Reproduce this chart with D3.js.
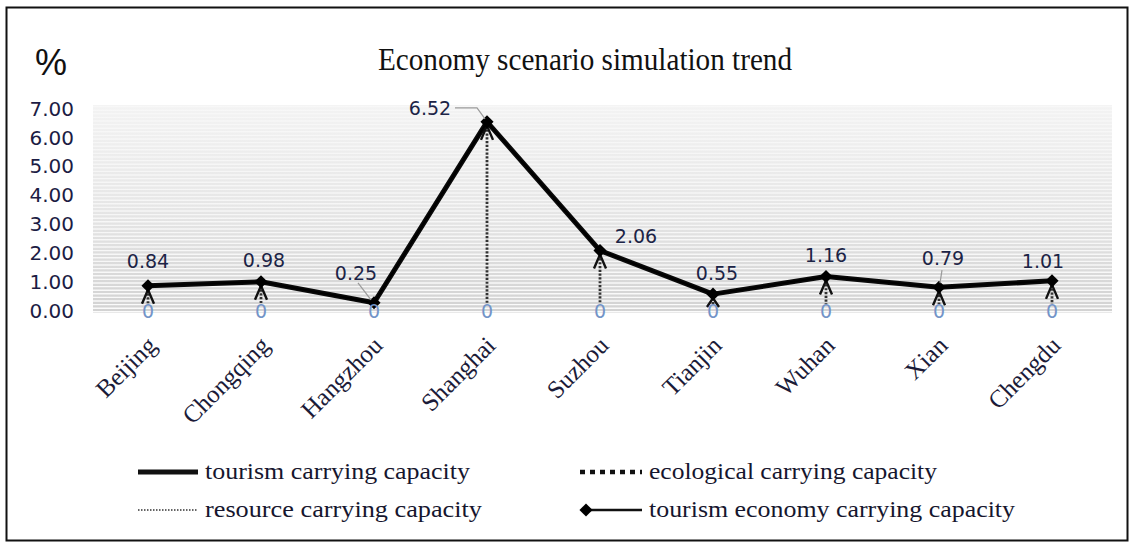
<!DOCTYPE html>
<html>
<head>
<meta charset="utf-8">
<script src="https://cdn.jsdelivr.net/npm/d3@7"></script>
<style>
  html, body { margin: 0; padding: 0; background: #fff; }
  svg { display: block; }
</style>
</head>
<body>
<svg id="chart" width="1129" height="543"></svg>
<script>
// ---- data ----
const cities = ["Beijing", "Chongqing", "Hangzhou", "Shanghai", "Suzhou", "Tianjin", "Wuhan", "Xian", "Chengdu"];
const tourismCapacity = [0.84, 0.98, 0.25, 6.52, 2.06, 0.55, 1.16, 0.79, 1.01];
const tourismEconomyCapacity = [0.84, 0.98, 0.25, 6.52, 2.06, 0.55, 1.16, 0.79, 1.01];
const ecologicalCapacity = [0, 0, 0, 0, 0, 0, 0, 0, 0];
const resourceCapacity = [0, 0, 0, 0, 0, 0, 0, 0, 0];
const yTickValues = [0, 1, 2, 3, 4, 5, 6, 7];
const legendItems = ["tourism carrying capacity", "ecological carrying capacity",
                     "resource carrying capacity", "tourism economy carrying capacity"];

// value-label placement around each point (dx, dy from the marker), plus optional leader line
const labelPlacement = {
  Beijing:   { dx: 0,   dy: -18 },
  Chongqing: { dx: 3,   dy: -15 },
  Hangzhou:  { dx: -18, dy: -23, leader: true },
  Shanghai:  { dx: -57, dy: -7,  leader: true },
  Suzhou:    { dx: 36,  dy: -8 },
  Tianjin:   { dx: 4,   dy: -14 },
  Wuhan:     { dx: 0,   dy: -15 },
  Xian:      { dx: 4,   dy: -22, leader: true },
  Chengdu:   { dx: -9,  dy: -13 }
};

const svg = d3.select("#chart");
const W = 1129, H = 543;

const x = d3.scalePoint().domain(cities).range([91.5, 1108.5]).padding(0.5);
const y = d3.scaleLinear().domain([0, 7]).range([310, 108]);

const sans = "'DejaVu Sans', Verdana, sans-serif";
const serif = "'Liberation Serif', 'Times New Roman', serif";

// outer frame
svg.append("rect")
  .attr("x", 6.5).attr("y", 7.5).attr("width", W - 8).attr("height", H - 10)
  .attr("fill", "#fff").attr("stroke", "#111").attr("stroke-width", 2);

// plot background: grey gradient with fine horizontal stripes
const defs = svg.append("defs");
const grad = defs.append("linearGradient").attr("id", "bg").attr("x1", 0).attr("y1", 0).attr("x2", 0).attr("y2", 1);
grad.append("stop").attr("offset", "0%").attr("stop-color", "#f3f3f3");
grad.append("stop").attr("offset", "50%").attr("stop-color", "#e6e6e6");
grad.append("stop").attr("offset", "100%").attr("stop-color", "#d2d2d2");

const bgTop = y(7.1), bgBottom = y(-0.1), bgLeft = 93, bgRight = 1112;
svg.append("rect")
  .attr("x", bgLeft).attr("y", bgTop).attr("width", bgRight - bgLeft).attr("height", bgBottom - bgTop)
  .attr("fill", "url(#bg)");
svg.append("g").selectAll("line")
  .data(d3.range(bgTop + 1.5, bgBottom, 3.6))
  .join("line")
  .attr("x1", bgLeft).attr("x2", bgRight)
  .attr("y1", d => d).attr("y2", d => d)
  .attr("stroke", "#ffffff").attr("stroke-width", 1.4)
  .attr("stroke-opacity", d => 0.4 + 0.5 * (d - bgTop) / (bgBottom - bgTop));

// title and unit
svg.append("text")
  .attr("x", 585).attr("y", 70).attr("text-anchor", "middle")
  .attr("font-family", serif).attr("font-size", 32)
  .attr("textLength", 414).attr("lengthAdjust", "spacingAndGlyphs")
  .attr("fill", "#111")
  .text("Economy scenario simulation trend");
svg.append("text")
  .attr("x", 51).attr("y", 75).attr("text-anchor", "middle")
  .attr("font-family", "'Liberation Sans Narrow', 'Liberation Sans', Arial, sans-serif")
  .attr("font-size", 36).attr("fill", "#111")
  .text("%");

// y axis (labels only)
const yAxis = d3.axisLeft(y).tickValues(yTickValues).tickFormat(d3.format(".2f")).tickSize(0).tickPadding(0);
const yG = svg.append("g").attr("transform", "translate(74,0)").call(yAxis);
yG.select(".domain").remove();
yG.selectAll("text")
  .attr("font-family", sans).attr("font-size", 20)
  .attr("fill", "#1c1c44").attr("dy", "0.36em");

// x axis (rotated category labels)
const xAxis = d3.axisBottom(x).tickSize(0).tickPadding(0);
const xG = svg.append("g").call(xAxis);
xG.select(".domain").remove();
xG.selectAll(".tick").attr("transform", d => `translate(${x(d) + 10},347)`);
xG.selectAll("text")
  .attr("font-family", serif).attr("font-size", 25)
  .attr("fill", "#1b1b38")
  .attr("text-anchor", "end").attr("dy", 0).attr("y", 0)
  .attr("transform", "rotate(-45)");

// vertical drop arrows from the ecological baseline up to each point
const drops = svg.append("g");
cities.forEach((c, i) => {
  const cx = x(c);
  const top = y(tourismEconomyCapacity[i]);
  const base = y(ecologicalCapacity[i]);
  const apex = top + 4;
  if (base - apex > 6) {
    drops.append("line")
      .attr("x1", cx).attr("x2", cx).attr("y1", apex).attr("y2", base - 6)
      .attr("stroke", "#333").attr("stroke-width", 2.8)
      .attr("stroke-dasharray", "2.2,1.6");
  }
  const legEnd = Math.min(apex + 14, base - 3);
  if (legEnd > apex + 3) {
    drops.append("path")
      .attr("d", `M${cx - 6},${legEnd} L${cx},${apex} L${cx + 6},${legEnd}`)
      .attr("fill", "none").attr("stroke", "#111").attr("stroke-width", 2.4);
  }
});

// tourism carrying capacity (solid line)
const line = d3.line().x((d, i) => x(cities[i])).y(d => y(d));
svg.append("path")
  .datum(tourismCapacity)
  .attr("d", line)
  .attr("fill", "none").attr("stroke", "#0a0a0a").attr("stroke-width", 5)
  .attr("stroke-linejoin", "round");

// tourism economy carrying capacity (thin line with diamonds)
svg.append("path")
  .datum(tourismEconomyCapacity)
  .attr("d", line)
  .attr("fill", "none").attr("stroke", "#000").attr("stroke-width", 2);
svg.append("g").selectAll("path")
  .data(tourismEconomyCapacity)
  .join("path")
  .attr("transform", (d, i) => `translate(${x(cities[i])},${y(d)})`)
  .attr("d", d3.symbol(d3.symbolDiamond2, 110))
  .attr("fill", "#000");

// "0" labels for the zero-valued series
svg.append("g").selectAll("text")
  .data(resourceCapacity)
  .join("text")
  .attr("x", (d, i) => x(cities[i]))
  .attr("y", d => y(d) + 8)
  .attr("text-anchor", "middle")
  .attr("font-family", sans).attr("font-size", 19)
  .attr("fill", "#7394c8")
  .text(d => d);

// value labels and leader lines
const labels = svg.append("g");
tourismEconomyCapacity.forEach((v, i) => {
  const c = cities[i];
  const p = labelPlacement[c];
  const cx = x(c), cy = y(v);
  const lx = cx + p.dx, ly = cy + p.dy;
  if (p.leader) {
    let d;
    if (p.dx < -30) d = `M${lx + 25},${ly - 7} L${cx - 10},${ly - 7} L${cx - 2},${cy - 3}`;
    else if (p.dx < 0) d = `M${lx + 2},${ly + 3} L${cx - 3},${cy - 3}`;
    else d = `M${cx + 3},${ly + 5} L${cx + 1},${cy - 4}`;
    labels.append("path").attr("d", d)
      .attr("fill", "none").attr("stroke", "#9a9a9a").attr("stroke-width", 1.2);
  }
  labels.append("text")
    .attr("x", lx).attr("y", ly)
    .attr("text-anchor", "middle")
    .attr("font-family", sans).attr("font-size", 19)
    .attr("fill", "#1c2446")
    .text(d3.format(".2f")(v));
});

// legend
const legend = svg.append("g");
const rows = [472, 510];
const cols = [{ sx: 138, ex: 198, tx: 205 }, { sx: 580, ex: 642, tx: 649 }];
const textWidths = [265, 288, 277, 366];
legendItems.forEach((name, k) => {
  const col = cols[k % 2], ry = rows[Math.floor(k / 2)];
  const g = legend.append("g");
  if (k === 0) {
    g.append("line").attr("x1", col.sx).attr("x2", col.ex).attr("y1", ry).attr("y2", ry)
      .attr("stroke", "#111").attr("stroke-width", 5);
  } else if (k === 1) {
    g.append("line").attr("x1", col.sx).attr("x2", col.ex).attr("y1", ry).attr("y2", ry)
      .attr("stroke", "#111").attr("stroke-width", 4.5).attr("stroke-dasharray", "5,5");
  } else if (k === 2) {
    g.append("line").attr("x1", col.sx).attr("x2", col.ex).attr("y1", ry).attr("y2", ry)
      .attr("stroke", "#333").attr("stroke-width", 1.4).attr("stroke-dasharray", "1.5,1.5");
  } else {
    g.append("line").attr("x1", col.sx + 4).attr("x2", col.ex).attr("y1", ry).attr("y2", ry)
      .attr("stroke", "#111").attr("stroke-width", 2.4);
    g.append("path").attr("transform", `translate(${col.sx + 6},${ry})`)
      .attr("d", d3.symbol(d3.symbolDiamond2, 110)).attr("fill", "#000");
  }
  g.append("text")
    .attr("x", col.tx).attr("y", ry + 7)
    .attr("font-family", serif).attr("font-size", 23)
    .attr("textLength", textWidths[k]).attr("lengthAdjust", "spacingAndGlyphs")
    .attr("fill", "#16162e")
    .text(name);
});
</script>
</body>
</html>
